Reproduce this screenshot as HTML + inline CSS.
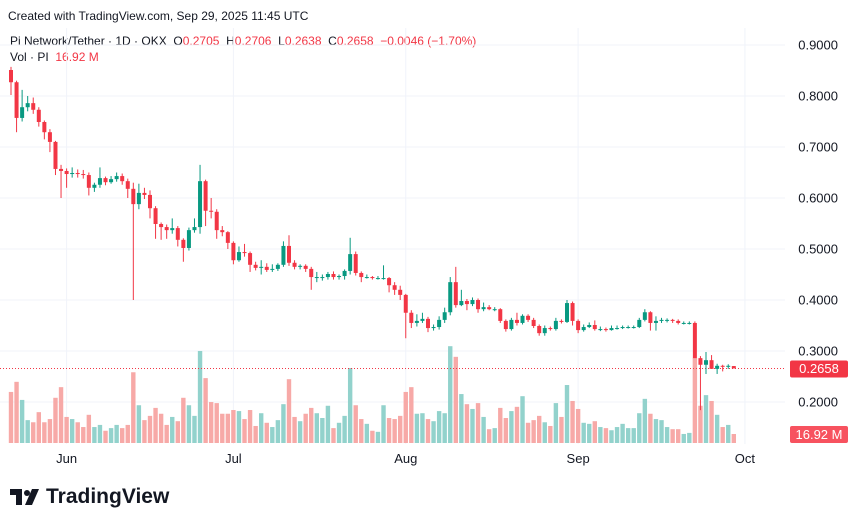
<!DOCTYPE html>
<html><head><meta charset="utf-8">
<style>
body{margin:0;background:#fff;font-family:"Liberation Sans",sans-serif;}
#wrap{position:relative;width:860px;height:526px;overflow:hidden;}
.t{position:absolute;white-space:nowrap;color:#131722;}
</style></head>
<body>
<div id="wrap">
<div class="t" style="left:8px;top:9px;font-size:12px;">Created with TradingView.com, Sep 29, 2025 11:45 UTC</div>
<div class="t" style="left:10px;top:34px;font-size:12px;">Pi Network/Tether · 1D · OKX&nbsp; O<span style="color:#F23645">0.2705</span>&nbsp; H<span style="color:#F23645">0.2706</span>&nbsp; L<span style="color:#F23645">0.2638</span>&nbsp; C<span style="color:#F23645">0.2658</span>&nbsp; <span style="color:#F23645">−0.0046 (−1.70%)</span></div>
<div class="t" style="left:10px;top:50px;font-size:12px;">Vol · PI&nbsp; <span style="color:#F23645">16.92 M</span></div>
<svg id="chart" width="860" height="526" style="position:absolute;left:0;top:0"></svg>
<svg width="32" height="18" style="position:absolute;left:10px;top:489px"><path d="M0 0H12V16H6V6H0Z" fill="#131722"/><circle cx="17" cy="4" r="3" fill="#131722"/><path d="M22 0H29L22 16H15Z" fill="#131722"/></svg>
<div class="t" style="left:46px;top:485px;font-size:21px;font-weight:bold;">TradingView</div>
</div>
<script>
const opens=[.851,.827,.757,.778,.786,.773,.749,.729,.710,.657,.653,.647,.649,.647,.645,.620,.626,.639,.631,.637,.643,.633,.618,.588,.610,.606,.580,.549,.543,.537,.541,.518,.502,.537,.543,.633,.575,.573,.537,.533,.512,.478,.494,.492,.469,.463,.465,.459,.461,.469,.506,.473,.465,.467,.461,.445,.445,.445,.451,.445,.447,.457,.490,.453,.445,.445,.443,.443,.443,.429,.420,.410,.375,.355,.359,.363,.345,.347,.361,.376,.435,.390,.398,.392,.400,.382,.386,.382,.382,.359,.343,.361,.355,.369,.361,.349,.335,.345,.343,.359,.357,.394,.359,.341,.347,.351,.343,.343,.341,.345,.345,.347,.347,.347,.361,.376,.355,.359,.361,.361,.359,.355,.355,.355,.286,.273,.282,.265,.271,.269,.2705];
const closes=[.827,.757,.778,.786,.773,.749,.729,.710,.657,.653,.647,.649,.647,.645,.620,.626,.639,.631,.637,.643,.633,.618,.588,.610,.606,.580,.549,.543,.537,.541,.518,.502,.537,.543,.633,.575,.573,.537,.533,.512,.478,.494,.492,.469,.463,.465,.459,.461,.469,.506,.473,.465,.467,.461,.445,.445,.445,.451,.445,.447,.457,.490,.453,.445,.445,.443,.443,.443,.429,.420,.410,.375,.355,.359,.363,.345,.347,.361,.376,.435,.390,.398,.392,.400,.382,.386,.382,.382,.359,.343,.361,.355,.369,.361,.349,.335,.345,.343,.359,.357,.394,.359,.341,.347,.351,.343,.343,.341,.345,.345,.347,.347,.347,.361,.376,.355,.359,.361,.361,.359,.355,.355,.355,.286,.273,.282,.265,.271,.269,.271,.2658];
const highs=[.857,.830,.812,.800,.797,.778,.752,.735,.712,.665,.658,.660,.656,.655,.650,.630,.660,.642,.643,.650,.648,.638,.630,.628,.620,.615,.584,.552,.548,.560,.545,.521,.542,.560,.665,.636,.600,.578,.545,.535,.515,.505,.510,.495,.475,.478,.472,.470,.472,.515,.527,.478,.470,.470,.465,.455,.450,.455,.456,.450,.460,.522,.495,.456,.450,.447,.447,.468,.445,.435,.428,.412,.380,.372,.375,.367,.352,.368,.385,.445,.465,.420,.402,.405,.403,.395,.390,.386,.384,.362,.365,.375,.372,.372,.365,.352,.350,.348,.365,.362,.400,.397,.362,.352,.356,.360,.348,.346,.350,.350,.350,.350,.350,.365,.382,.378,.368,.365,.364,.363,.362,.358,.358,.358,.290,.298,.292,.275,.273,.274,.2706];
const lows=[.802,.729,.750,.770,.765,.740,.715,.690,.645,.600,.620,.640,.640,.638,.605,.612,.620,.625,.628,.632,.626,.600,.400,.578,.598,.560,.520,.518,.520,.530,.505,.475,.497,.532,.530,.545,.560,.520,.525,.500,.470,.475,.485,.455,.458,.450,.455,.455,.457,.465,.467,.460,.460,.455,.420,.435,.438,.440,.440,.440,.440,.450,.448,.435,.442,.440,.440,.440,.415,.410,.400,.325,.345,.348,.355,.337,.340,.342,.355,.370,.385,.388,.380,.388,.375,.378,.380,.378,.355,.338,.340,.350,.352,.357,.345,.330,.330,.340,.340,.354,.355,.350,.335,.338,.345,.340,.339,.338,.340,.342,.343,.344,.344,.345,.358,.340,.340,.355,.356,.355,.352,.352,.352,.352,.184,.255,.270,.255,.260,.265,.266,.2638];
const volumes=[96,115,81,43,39,58,39,45,85,105,49,45,39,30,53,30,34,23,28,34,28,34,133,71,43,51,66,55,34,49,41,85,71,51,173,122,77,75,55,55,62,60,45,62,32,56,38,30,43,73,120,49,41,55,66,56,47,70,28,38,51,141,71,45,36,23,21,71,47,45,51,96,105,55,56,45,41,60,56,182,162,92,73,64,75,49,26,28,66,47,60,68,88,38,43,51,39,32,75,49,109,79,64,38,36,41,30,28,24,30,36,28,28,56,83,55,45,43,30,26,26,17,19,160,70,90,79,53,30,34,16.92];
const priceTicks=[0.9,0.8,0.7,0.6,0.5,0.4,0.3,0.2];
const monthLabels=["Jun","Jul","Aug","Sep","Oct"];
const monthIndex=[10,40,71,102,132];
const lastPrice=0.2658;
const lastVolumeLabel="16.92 M";

const NS="http://www.w3.org/2000/svg";
const svg=document.getElementById('chart');
const yP=p=>45+(0.9-p)*510;
const xI=i=>11+i*5.56;
const VBASE=443, VSCALE=9/16.92;
function mk(tag,attrs,parent){const e=document.createElementNS(NS,tag);for(const k in attrs)e.setAttribute(k,attrs[k]);(parent||svg).appendChild(e);return e;}

priceTicks.forEach(p=>{
  const g=mk('line',{x1:0,x2:785,y1:yP(p),y2:yP(p),stroke:'#F0F3FA','stroke-width':1});
  
  
  const t=mk('text',{x:838,y:yP(p)+4.5,'text-anchor':'end','font-size':13,fill:'#131722','font-family':'Liberation Sans, sans-serif'});
  t.textContent=p.toFixed(4);
  
  
});
monthLabels.forEach((m,k)=>{
  const x=xI(monthIndex[k]);
  const g=mk('line',{x1:x,x2:x,y1:28,y2:444,stroke:'#F0F3FA','stroke-width':1});
  
  
  const t=mk('text',{x:x,y:463,'text-anchor':'middle','font-size':13,fill:'#131722','font-family':'Liberation Sans, sans-serif'});
  t.textContent=m;
  
  
});

volumes.forEach((v,i)=>{
  const up=closes[i]>=opens[i];
  const h=v*VSCALE;
  const r=mk('rect',{x:xI(i)-2.2,y:VBASE-h,width:4.4,height:h,fill:up?'#92D2CC':'#F7A9A7'});
  
  
});

const lp=mk('line',{x1:0,x2:785,y1:yP(lastPrice),y2:yP(lastPrice),stroke:'#F23645','stroke-width':1,'stroke-dasharray':'1,2'});



opens.forEach((o,i)=>{
  const c=closes[i],up=c>=o,col=up?'#089981':'#F23645',x=xI(i);
  const w=mk('line',{x1:x,x2:x,y1:yP(highs[i]),y2:yP(lows[i]),stroke:col,'stroke-width':1});
  
  
  const top=yP(Math.max(o,c)),bot=yP(Math.min(o,c));
  const b=mk('rect',{x:x-2,y:top,width:4,height:Math.max(1,bot-top),fill:col});
  
  
});

const pl=mk('rect',{x:790,y:yP(lastPrice)-8,width:58,height:17,rx:2,fill:'#F23645'});


const plt=mk('text',{x:819,y:yP(lastPrice)+4.5,'text-anchor':'middle','font-size':13,fill:'#fff','font-family':'Liberation Sans, sans-serif'});
plt.textContent=lastPrice.toFixed(4);


const vl=mk('rect',{x:790,y:426,width:58,height:17,rx:2,fill:'#F7525F'});


const vlt=mk('text',{x:819,y:439,'text-anchor':'middle','font-size':13,fill:'#fff','font-family':'Liberation Sans, sans-serif'});
vlt.textContent=lastVolumeLabel;


</script>
</body></html>
